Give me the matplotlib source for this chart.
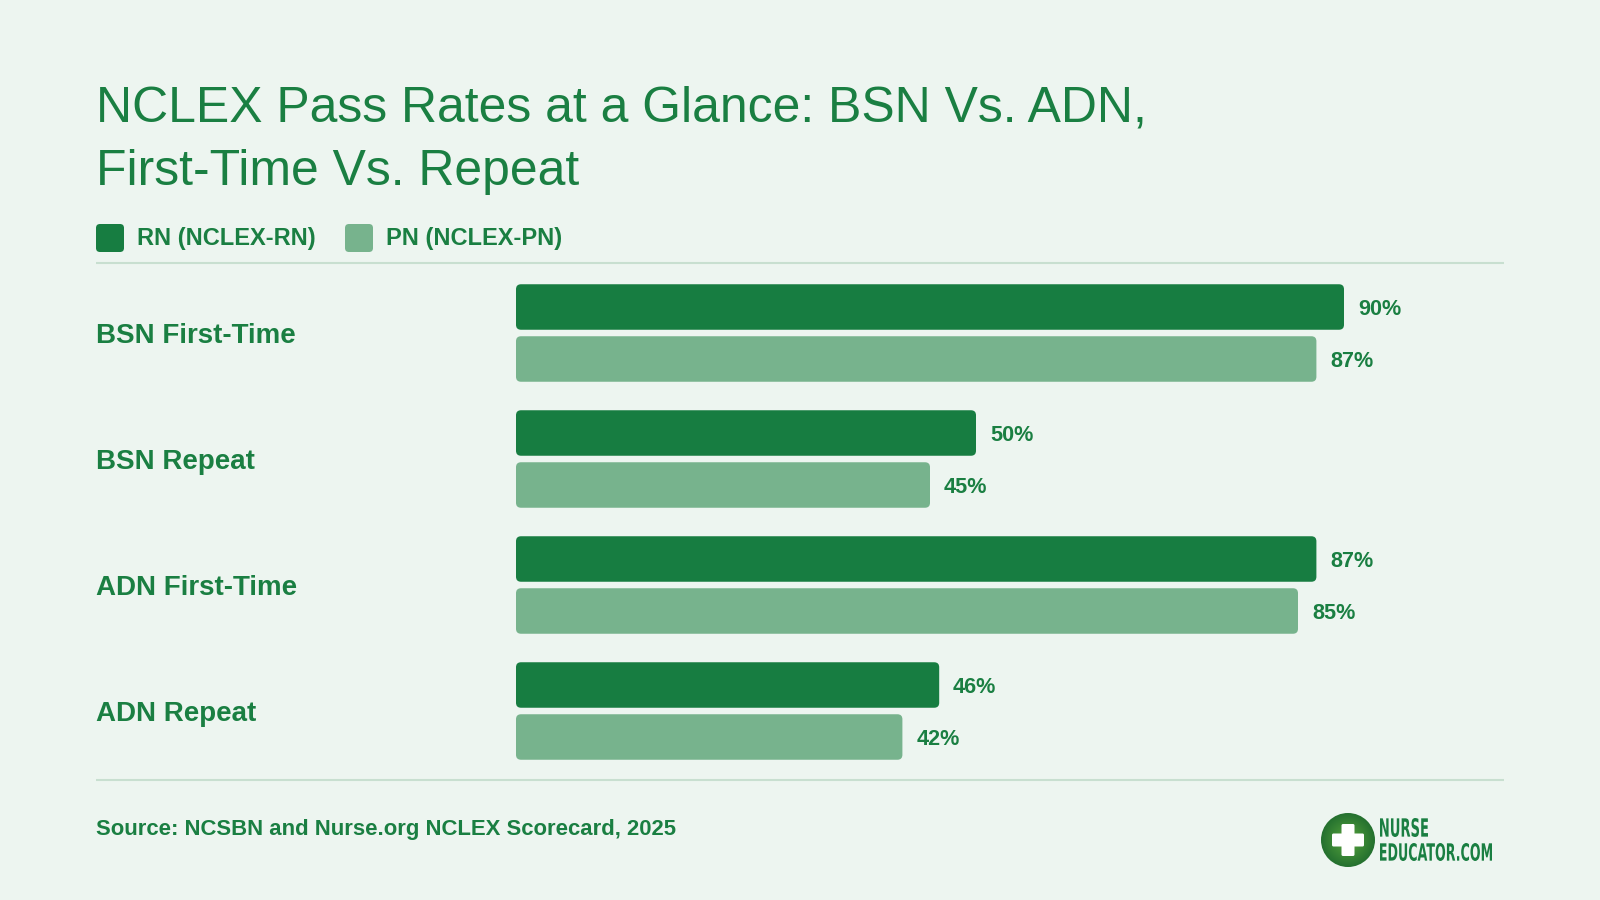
import matplotlib
matplotlib.use('Agg')
import matplotlib.pyplot as plt
import numpy as np
from matplotlib.patches import FancyBboxPatch, Circle, PathPatch
from matplotlib.textpath import TextPath
from matplotlib.font_manager import FontProperties
from matplotlib.transforms import Affine2D, blended_transform_factory
from matplotlib.colors import LinearSegmentedColormap

# ---------------- data ----------------
categories = ["BSN First-Time", "BSN Repeat", "ADN First-Time", "ADN Repeat"]
rn_values = [90, 50, 87, 46]
pn_values = [87, 45, 85, 42]
series_names = ["RN (NCLEX-RN)", "PN (NCLEX-PN)"]
title_lines = ["NCLEX Pass Rates at a Glance: BSN Vs. ADN,", "First-Time Vs. Repeat"]
source_text = "Source: NCSBN and Nurse.org NCLEX Scorecard, 2025"
logo_lines = ["NURSE", "EDUCATOR.COM"]

# ---------------- style ----------------
BG = "#EDF5F0"
DARK = "#177D41"
LIGHT = "#77B38D"
TEXT = "#1A7F42"
RULE = "#C8DFD0"
FONT = "Liberation Sans"

fig = plt.figure(figsize=(16, 9), dpi=100, facecolor=BG)

# overlay axes in pixel coordinates (y down)
ov = fig.add_axes([0, 0, 1, 1], zorder=0)
ov.set_xlim(0, 1600)
ov.set_ylim(900, 0)
ov.axis('off')

# title
ov.text(96, 122, title_lines[0], fontsize=35.9, family=FONT, color=TEXT, va='baseline', ha='left')
ov.text(96, 185, title_lines[1], fontsize=35.9, family=FONT, color=TEXT, va='baseline', ha='left')

# legend
for xs, name, col in [(96, series_names[0], DARK), (345, series_names[1], LIGHT)]:
    ov.add_patch(FancyBboxPatch((xs, 224), 28, 28, boxstyle="round,pad=0,rounding_size=4",
                                facecolor=col, edgecolor='none'))
    ov.text(xs + 41, 245, name, fontsize=17, fontweight='bold', family=FONT, color=TEXT,
            va='baseline', ha='left')

# rules
ov.plot([96, 1504], [263, 263], color=RULE, lw=1.5, solid_capstyle='butt')
ov.plot([96, 1504], [780, 780], color=RULE, lw=1.5, solid_capstyle='butt')

# source
ov.text(96, 835, source_text, fontsize=15.9, fontweight='bold', family=FONT, color=TEXT,
        va='baseline', ha='left')

# ---------------- bars ----------------
ax = fig.add_axes([516 / 1600, 126 / 900, 920 / 1600, 504 / 900], zorder=1)
ax.set_xlim(0, 100)
ax.set_ylim(3.5, -0.5)
ax.axis('off')

y = np.arange(len(categories))
off = 26 / 126
h = 45.5 / 126
rn_bars = ax.barh(y - off, rn_values, height=h, color=DARK)
pn_bars = ax.barh(y + off, pn_values, height=h, color=LIGHT)

px_per_x = 920 / 100
px_per_y = 126
for bars, col in [(rn_bars, DARK), (pn_bars, LIGHT)]:
    for r in bars:
        x0, y0 = r.get_x(), r.get_y()
        w, hh = r.get_width(), r.get_height()
        r.set_visible(False)
        ax.add_patch(FancyBboxPatch((x0, y0), w, hh,
                                    boxstyle="round,pad=0,rounding_size=%f" % (5 / px_per_x),
                                    mutation_aspect=px_per_x / px_per_y,
                                    facecolor=col, edgecolor='none'))

for vals, ys in [(rn_values, y - off), (pn_values, y + off)]:
    for v, yy in zip(vals, ys):
        ax.annotate(f"{v}%", xy=(v, yy), xytext=(10, -6), textcoords='offset points',
                    va='baseline', ha='left', fontsize=15.6, fontweight='bold',
                    family=FONT, color=TEXT)

blend = blended_transform_factory(ov.transData, ax.transData)
for i, cat in enumerate(categories):
    ax.annotate(cat, xy=(96, i), xycoords=blend, xytext=(0, -7.4), textcoords='offset points',
                va='baseline', ha='left', fontsize=20, fontweight='bold', family=FONT,
                color=TEXT, annotation_clip=False)

# ---------------- logo ----------------
cx, cy, rad = 1348, 840, 27
cmap = LinearSegmentedColormap.from_list("lg", ["#6BA444", "#3E8B36", "#24702F"])
gx, gy = np.meshgrid(np.linspace(-1, 1, 200), np.linspace(-1, 1, 200))
rr = np.sqrt(gx ** 2 + gy ** 2)
im = ov.imshow(rr, cmap=cmap, vmin=0, vmax=1, extent=(cx - rad, cx + rad, cy + rad, cy - rad),
               aspect='auto', zorder=2, interpolation='bilinear')
clip = Circle((cx, cy), rad, transform=ov.transData)
im.set_clip_path(clip)
ov.set_xlim(0, 1600)
ov.set_ylim(900, 0)
ov.add_patch(FancyBboxPatch((cx - 16, cy - 6.5), 32, 13, boxstyle="round,pad=0,rounding_size=1.5",
                            facecolor='white', edgecolor='none', zorder=3))
ov.add_patch(FancyBboxPatch((cx - 6.5, cy - 16), 13, 32, boxstyle="round,pad=0,rounding_size=1.5",
                            facecolor='white', edgecolor='none', zorder=3))

fp = FontProperties(family='DejaVu Sans', weight='bold')
for txt, x0t, x1t, top, base in [(logo_lines[0], 1380, 1428, 818, 837),
                                 (logo_lines[1], 1380, 1492, 843, 861)]:
    tp = TextPath((0, 0), txt, size=20, prop=fp)
    ext = tp.get_extents()
    sx = (x1t - x0t) / ext.width
    sy = (base - top) / ext.height
    tr = Affine2D().translate(-ext.x0, -ext.y0).scale(sx, -sy).translate(x0t, base)
    ov.add_patch(PathPatch(tr.transform_path(tp), facecolor=TEXT, edgecolor='none', zorder=3))

fig.savefig("out.png", dpi=100, facecolor=BG)
